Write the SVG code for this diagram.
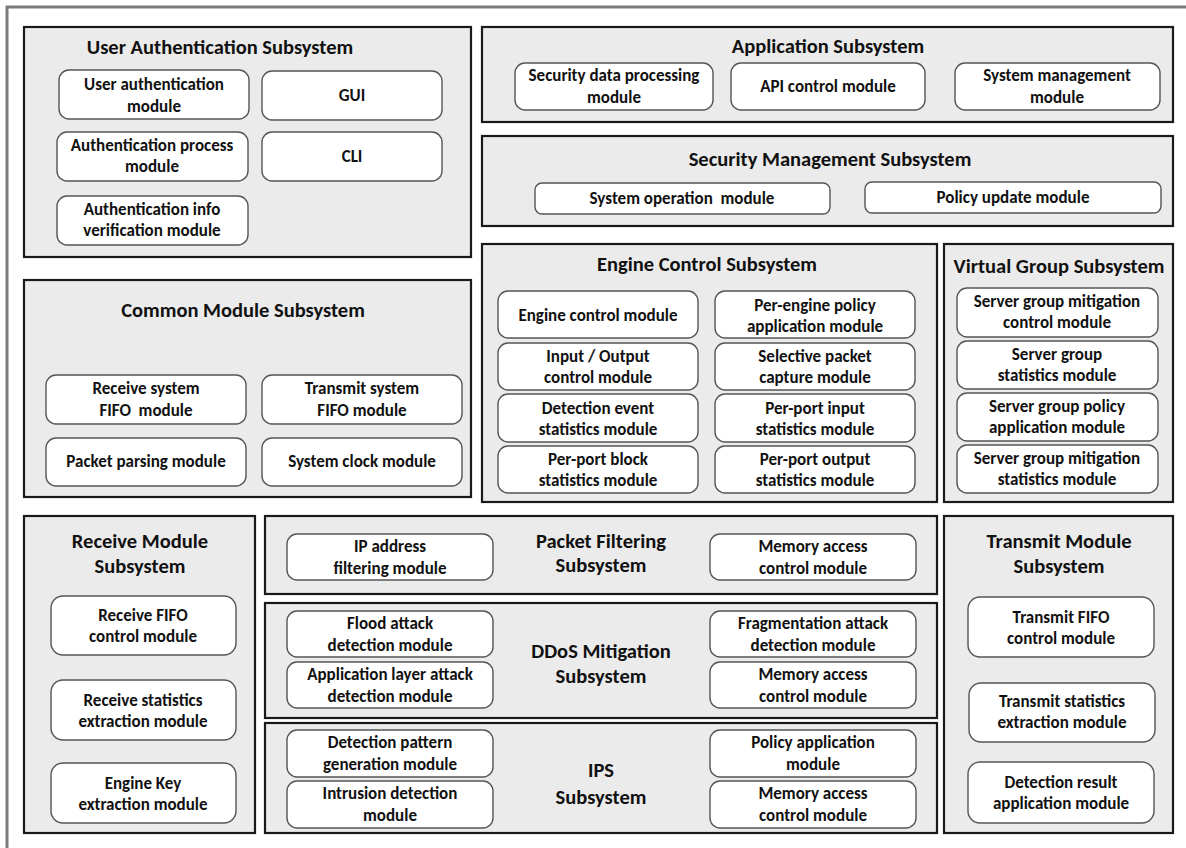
<svg xmlns="http://www.w3.org/2000/svg" width="1186" height="848" viewBox="0 0 1186 848">
<style>
.sub{fill:#ebebeb;stroke:#1a1a1a;stroke-width:2.2}
.mod{fill:#ffffff;stroke:#555555;stroke-width:1.4}
text{font-family:Carlito,Lato,"Liberation Sans",sans-serif;font-weight:bold;fill:#111111;text-anchor:middle;dominant-baseline:central}
.t{font-size:20.5px}
.m{font-size:17px}
</style>
<rect x="0" y="0" width="1186" height="848" fill="#ffffff"/>
<rect x="7" y="7" width="1200" height="870" fill="none" stroke="#7a7a7a" stroke-width="3"/>

<g id="user-auth">
<rect class="sub" x="24" y="27" width="447" height="230"/>
<text class="t" x="220" y="47">User Authentication Subsystem</text>
<rect class="mod" x="59" y="70" width="190" height="49" rx="10"/>
<text class="m" x="154" y="84">User authentication</text><text class="m" x="154" y="106">module</text>
<rect class="mod" x="262" y="71" width="180" height="49" rx="10"/>
<text class="m" x="352" y="95">GUI</text>
<rect class="mod" x="57" y="132" width="191" height="49" rx="10"/>
<text class="m" x="152" y="145">Authentication process</text><text class="m" x="152" y="166">module</text>
<rect class="mod" x="262" y="132" width="180" height="49" rx="10"/>
<text class="m" x="352" y="156">CLI</text>
<rect class="mod" x="57" y="196" width="191" height="49" rx="10"/>
<text class="m" x="152" y="209">Authentication info</text><text class="m" x="152" y="230">verification module</text>
</g>

<g id="application">
<rect class="sub" x="482" y="27" width="691" height="95"/>
<text class="t" x="828" y="46">Application Subsystem</text>
<rect class="mod" x="515" y="63" width="198" height="47" rx="10"/>
<text class="m" x="614" y="75">Security data processing</text><text class="m" x="614" y="97">module</text>
<rect class="mod" x="731" y="63" width="194" height="47" rx="10"/>
<text class="m" x="828" y="86">API control module</text>
<rect class="mod" x="955" y="63" width="205" height="47" rx="10"/>
<text class="m" x="1057" y="75">System management</text><text class="m" x="1057" y="97">module</text>
</g>

<g id="security-management">
<rect class="sub" x="482" y="136" width="691" height="90"/>
<text class="t" x="830" y="159">Security Management Subsystem</text>
<rect class="mod" x="535" y="183" width="295" height="31" rx="7"/>
<text class="m" x="682" y="198" xml:space="preserve">System operation  module</text>
<rect class="mod" x="865" y="182" width="296" height="31" rx="7"/>
<text class="m" x="1013" y="197">Policy update module</text>
</g>

<g id="common-module">
<rect class="sub" x="24" y="280" width="447" height="217"/>
<text class="t" x="243" y="310">Common Module Subsystem</text>
<rect class="mod" x="46" y="375" width="200" height="49" rx="10"/>
<text class="m" x="146" y="388">Receive system</text><text class="m" x="146" y="410" xml:space="preserve">FIFO  module</text>
<rect class="mod" x="262" y="375" width="200" height="49" rx="10"/>
<text class="m" x="362" y="388">Transmit system</text><text class="m" x="362" y="410">FIFO module</text>
<rect class="mod" x="46" y="438" width="200" height="48" rx="10"/>
<text class="m" x="146" y="461">Packet parsing module</text>
<rect class="mod" x="262" y="438" width="200" height="48" rx="10"/>
<text class="m" x="362" y="461">System clock module</text>
</g>

<g id="engine-control">
<rect class="sub" x="482" y="244" width="455" height="258"/>
<text class="t" x="707" y="264">Engine Control Subsystem</text>
<rect class="mod" x="498" y="291" width="200" height="47" rx="10"/>
<text class="m" x="598" y="315">Engine control module</text>
<rect class="mod" x="715" y="291" width="200" height="47" rx="10"/>
<text class="m" x="815" y="305">Per-engine policy</text><text class="m" x="815" y="326">application module</text>
<rect class="mod" x="498" y="343" width="200" height="47" rx="10"/>
<text class="m" x="598" y="356">Input / Output</text><text class="m" x="598" y="377">control module</text>
<rect class="mod" x="715" y="343" width="200" height="47" rx="10"/>
<text class="m" x="815" y="356">Selective packet</text><text class="m" x="815" y="377">capture module</text>
<rect class="mod" x="498" y="394" width="200" height="48" rx="10"/>
<text class="m" x="598" y="408">Detection event</text><text class="m" x="598" y="429">statistics module</text>
<rect class="mod" x="715" y="394" width="200" height="48" rx="10"/>
<text class="m" x="815" y="408">Per-port input</text><text class="m" x="815" y="429">statistics module</text>
<rect class="mod" x="498" y="446" width="200" height="47" rx="10"/>
<text class="m" x="598" y="459">Per-port block</text><text class="m" x="598" y="480">statistics module</text>
<rect class="mod" x="715" y="446" width="200" height="47" rx="10"/>
<text class="m" x="815" y="459">Per-port output</text><text class="m" x="815" y="480">statistics module</text>
</g>

<g id="virtual-group">
<rect class="sub" x="944" y="244" width="229" height="258"/>
<text class="t" x="1059" y="266">Virtual Group Subsystem</text>
<rect class="mod" x="957" y="288" width="201" height="49" rx="10"/>
<text class="m" x="1057" y="301">Server group mitigation</text><text class="m" x="1057" y="322">control module</text>
<rect class="mod" x="957" y="341" width="201" height="48" rx="10"/>
<text class="m" x="1057" y="354">Server group</text><text class="m" x="1057" y="375">statistics module</text>
<rect class="mod" x="957" y="393" width="201" height="48" rx="10"/>
<text class="m" x="1057" y="406">Server group policy</text><text class="m" x="1057" y="427">application module</text>
<rect class="mod" x="957" y="445" width="201" height="48" rx="10"/>
<text class="m" x="1057" y="458">Server group mitigation</text><text class="m" x="1057" y="479">statistics module</text>
</g>

<g id="receive-module">
<rect class="sub" x="24" y="516" width="231" height="317"/>
<text class="t" x="140" y="541">Receive Module</text><text class="t" x="140" y="566">Subsystem</text>
<rect class="mod" x="51" y="596" width="185" height="59" rx="12"/>
<text class="m" x="143" y="615">Receive FIFO</text><text class="m" x="143" y="636">control module</text>
<rect class="mod" x="51" y="680" width="185" height="60" rx="12"/>
<text class="m" x="143" y="700">Receive statistics</text><text class="m" x="143" y="721">extraction module</text>
<rect class="mod" x="51" y="763" width="185" height="60" rx="12"/>
<text class="m" x="143" y="783">Engine Key</text><text class="m" x="143" y="804">extraction module</text>
</g>

<g id="packet-filtering">
<rect class="sub" x="265" y="516" width="672" height="78"/>
<text class="t" x="601" y="541">Packet Filtering</text><text class="t" x="601" y="565">Subsystem</text>
<rect class="mod" x="287" y="534" width="206" height="46" rx="10"/>
<text class="m" x="390" y="546">IP address</text><text class="m" x="390" y="568">filtering module</text>
<rect class="mod" x="710" y="534" width="206" height="46" rx="10"/>
<text class="m" x="813" y="546">Memory access</text><text class="m" x="813" y="568">control module</text>
</g>

<g id="ddos-mitigation">
<rect class="sub" x="265" y="603" width="672" height="115"/>
<text class="t" x="601" y="651">DDoS Mitigation</text><text class="t" x="601" y="676">Subsystem</text>
<rect class="mod" x="287" y="611" width="206" height="46" rx="10"/>
<text class="m" x="390" y="623">Flood attack</text><text class="m" x="390" y="645">detection module</text>
<rect class="mod" x="710" y="611" width="206" height="46" rx="10"/>
<text class="m" x="813" y="623">Fragmentation attack</text><text class="m" x="813" y="645">detection module</text>
<rect class="mod" x="287" y="662" width="206" height="46" rx="10"/>
<text class="m" x="390" y="674">Application layer attack</text><text class="m" x="390" y="696">detection module</text>
<rect class="mod" x="710" y="662" width="206" height="46" rx="10"/>
<text class="m" x="813" y="674">Memory access</text><text class="m" x="813" y="696">control module</text>
</g>

<g id="ips">
<rect class="sub" x="265" y="723" width="672" height="110"/>
<text class="t" x="601" y="770">IPS</text><text class="t" x="601" y="797">Subsystem</text>
<rect class="mod" x="287" y="730" width="206" height="47" rx="10"/>
<text class="m" x="390" y="742">Detection pattern</text><text class="m" x="390" y="764">generation module</text>
<rect class="mod" x="710" y="730" width="206" height="47" rx="10"/>
<text class="m" x="813" y="742">Policy application</text><text class="m" x="813" y="764">module</text>
<rect class="mod" x="287" y="781" width="206" height="47" rx="10"/>
<text class="m" x="390" y="793">Intrusion detection</text><text class="m" x="390" y="815">module</text>
<rect class="mod" x="710" y="781" width="206" height="47" rx="10"/>
<text class="m" x="813" y="793">Memory access</text><text class="m" x="813" y="815">control module</text>
</g>

<g id="transmit-module">
<rect class="sub" x="944" y="516" width="229" height="317"/>
<text class="t" x="1059" y="541">Transmit Module</text><text class="t" x="1059" y="566">Subsystem</text>
<rect class="mod" x="968" y="597" width="186" height="60" rx="12"/>
<text class="m" x="1061" y="617">Transmit FIFO</text><text class="m" x="1061" y="638">control module</text>
<rect class="mod" x="969" y="683" width="186" height="59" rx="12"/>
<text class="m" x="1062" y="701">Transmit statistics</text><text class="m" x="1062" y="722">extraction module</text>
<rect class="mod" x="968" y="762" width="186" height="61" rx="12"/>
<text class="m" x="1061" y="782">Detection result</text><text class="m" x="1061" y="803">application module</text>
</g>

<g id="connectors"></g>
</svg>
